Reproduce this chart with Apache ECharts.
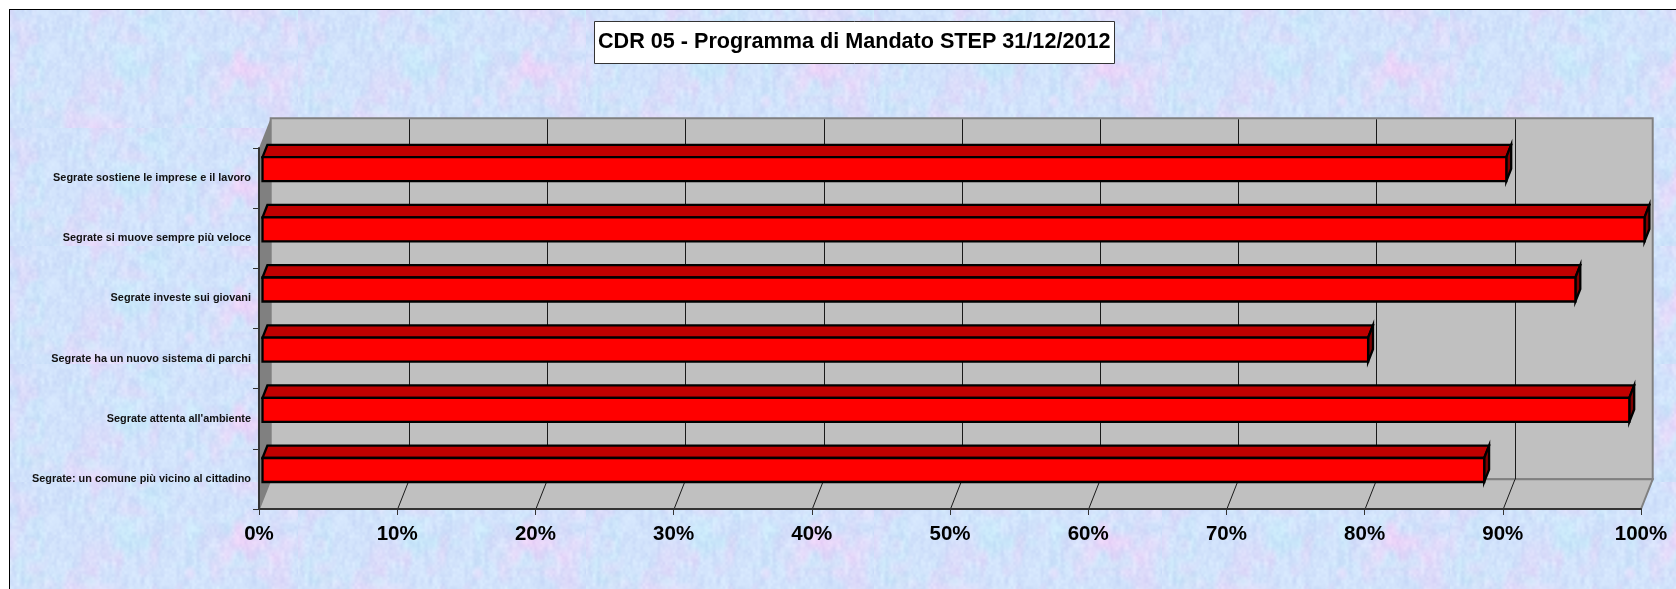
<!DOCTYPE html>
<html><head><meta charset="utf-8">
<script src="https://cdn.jsdelivr.net/npm/echarts@6/dist/echarts.min.js"></script>
<style>
html,body{margin:0;padding:0;background:#fff;width:1676px;height:589px;overflow:hidden}
#paper{position:absolute;left:9px;top:9px;width:1667px;height:580px;border-top:1px solid #000;border-left:1px solid #000;box-sizing:border-box}
#chart{position:absolute;left:0;top:0;width:1676px;height:589px}
</style></head><body>
<div id="paper"></div><div id="chart"></div>
<script>
var categories = ["Segrate: un comune più vicino al cittadino","Segrate attenta all'ambiente","Segrate ha un nuovo sistema di parchi","Segrate investe sui giovani","Segrate si muove sempre più veloce","Segrate sostiene le imprese e il lavoro"];
var values = [88.4, 98.9, 80, 95, 100, 90];
var gridValues = [10,20,30,40,50,60,70,80,90];
var titleText = "CDR 05 - Programma di Mandato STEP 31/12/2012";

// paper texture (decoration only)
(function(){
  var W=288,H=118,c=document.createElement('canvas');c.width=W;c.height=H;
  var g=c.getContext('2d'),im=g.createImageData(W,H);
  function h(x,y,s){var v=Math.sin(x*127.1+y*311.7+s*74.7)*43758.5453;return v-Math.floor(v);}
  function n(x,y,cx,cy,s){var X=x/cx,Y=y/cy,i=Math.floor(X),j=Math.floor(Y),u=X-i,v=Y-j;u=u*u*(3-2*u);v=v*v*(3-2*v);
    return (h(i,j,s)*(1-u)+h(i+1,j,s)*u)*(1-v)+(h(i,j+1,s)*(1-u)+h(i+1,j+1,s)*u)*v;}
  function blob(x,y,bx,by,r){var d=((x-bx)*(x-bx)*2.5+(y-by)*(y-by))/(r*r);return Math.exp(-d);}
  for(var y=0;y<H;y++)for(var x=0;x<W;x++){
    var p=n(x,y,30,24,1)*.5+n(x,y,12,15,2)*.5;
    var q=n(x,y,28,20,3)*.6+n(x,y,10,12,4)*.4;
    var f=n(x,y,4,9,5)*.55+n(x,y,2.5,3,6)*.45;
    var pink=Math.max(0,(p-.5)*1.5)+.32*blob(x,y,82,75,17)+.2*blob(x,y,82,25,14)+.18*blob(x,y,230,60,16);
    var cyan=Math.max(0,(q-.56)*1.5)+.16*blob(x,y,155,25,14)+.14*blob(x,y,40,95,14);
    var r=209+pink*34-cyan*18, gg=226-pink*18+cyan*12, b=251-pink*3-cyan*3;
    var d=(f-.5)*22; r+=d;gg+=d;b+=d*.4;
    var k=(y*W+x)*4;im.data[k]=r;im.data[k+1]=gg;im.data[k+2]=b;im.data[k+3]=255;
  }
  g.putImageData(im,0,0);
  var paper=document.getElementById('paper');
  paper.style.backgroundImage='url('+c.toDataURL()+')';
})();

// oblique projection of the depth axis, in pixels for a depth of 1
var DEPTH_X=11.7, DEPTH_Y=-29.7, BAR_NEAR=0.3, BAR_FAR=0.717, BAR_HALF=12;
function proj(api,val,cat,depth,dy){
  var p=api.coord([val,cat]);
  return [p[0]+depth*DEPTH_X, p[1]+depth*DEPTH_Y+(dy||0)];
}
function plane(api){
  var band=api.size([0,1])[1], n=categories.length;
  var lo=api.coord([0,0])[1]+band/2, hi=api.coord([0,n-1])[1]-band/2;
  return {x0:api.coord([0,0])[0],x1:api.coord([100,0])[0],lo:lo,hi:hi};
}
function wallsItem(params,api){
  var s=plane(api), dx=DEPTH_X, dy=DEPTH_Y;
  function poly(pts,fill,stroke,lw){return {type:'polygon',shape:{points:pts},style:{fill:fill,stroke:stroke||null,lineWidth:lw||0}};}
  return {type:'group',children:[
    poly([[s.x0+dx,s.hi+dy],[s.x1+dx,s.hi+dy],[s.x1+dx,s.lo+dy],[s.x0+dx,s.lo+dy]],'#c0c0c0','#808080',2),
    poly([[s.x0,s.lo],[s.x0+dx,s.lo+dy],[s.x1+dx,s.lo+dy],[s.x1,s.lo]],'#c0c0c0','#808080',2),
    poly([[s.x0,s.hi],[s.x0+dx,s.hi+dy],[s.x0+dx,s.lo+dy],[s.x0,s.lo]],'#808080')
  ]};
}
function gridItem(params,api){
  var s=plane(api), v=api.value(0), x=api.coord([v,0])[0];
  var st={stroke:'#1a1a1a',lineWidth:1,fill:null};
  return {type:'group',children:[
    {type:'line',shape:{x1:Math.round(x+DEPTH_X)+.5,y1:s.hi+DEPTH_Y+1,x2:Math.round(x+DEPTH_X)+.5,y2:s.lo+DEPTH_Y},style:st},
    {type:'line',shape:{x1:x+DEPTH_X+.5,y1:s.lo+DEPTH_Y,x2:x+.5,y2:s.lo},style:st}
  ]};
}
function barItem(params,api){
  var v=api.value(0), c=api.value(1);
  var a=proj(api,0,c,BAR_NEAR,-BAR_HALF), b=proj(api,v,c,BAR_NEAR,-BAR_HALF);
  var d=proj(api,v,c,BAR_NEAR,BAR_HALF), e=proj(api,0,c,BAR_NEAR,BAR_HALF);
  var a2=proj(api,0,c,BAR_FAR,-BAR_HALF), b2=proj(api,v,c,BAR_FAR,-BAR_HALF), d2=proj(api,v,c,BAR_FAR,BAR_HALF);
  var ln={stroke:'#000',lineWidth:2.3,lineJoin:'miter'};
  function poly(pts,fill){return {type:'polygon',shape:{points:pts},style:Object.assign({fill:fill},ln)};}
  return {type:'group',children:[
    poly([a,a2,b2,b],'#c00000'),
    poly([b,b2,d2,d],'#800000'),
    poly([a,b,d,e],'#ff0000')
  ]};
}
var chart=echarts.init(document.getElementById('chart'),null,{renderer:'canvas'});
chart.setOption({
  animation:false,
  backgroundColor:'transparent',
  title:{text:titleText,left:594,top:21.5,
    padding:[9.5,4,9.5,4],backgroundColor:'#fff',borderColor:'#333',borderWidth:1,
    textStyle:{fontFamily:'Liberation Sans',fontWeight:'bold',fontSize:21.6,lineHeight:23,color:'#000'}},
  grid:{left:259,top:148,width:1382,height:361,containLabel:false},
  xAxis:{type:'value',min:0,max:100,interval:10,z:10,splitLine:{show:false},
    axisLine:{show:true,lineStyle:{color:'#333',width:2}},
    axisTick:{show:true,length:6,lineStyle:{color:'#333',width:1}},
    axisLabel:{formatter:'{value}%',margin:15,color:'#000',fontFamily:'Liberation Sans',fontWeight:'bold',fontSize:20.5}},
  yAxis:{type:'category',data:categories,z:10,boundaryGap:true,
    axisLine:{show:true,lineStyle:{color:'#333',width:2}},
    axisTick:{show:true,length:6,alignWithLabel:false,lineStyle:{color:'#333',width:1}},
    axisLabel:{margin:8,color:'#111',fontFamily:'Liberation Sans',fontWeight:'bold',fontSize:10.9},
    splitLine:{show:false}},
  series:[
    {type:'custom',name:'walls',renderItem:wallsItem,data:[[0,0]],encode:{x:0,y:1},z:1,silent:true},
    {type:'custom',name:'grid',renderItem:gridItem,data:gridValues.map(function(v){return [v,0];}),encode:{x:0,y:1},z:2,silent:true},
    {type:'custom',name:'bars',renderItem:barItem,data:values.map(function(v,i){return [v,i];}),encode:{x:0,y:1},z:3}
  ]
});
</script></body></html>
